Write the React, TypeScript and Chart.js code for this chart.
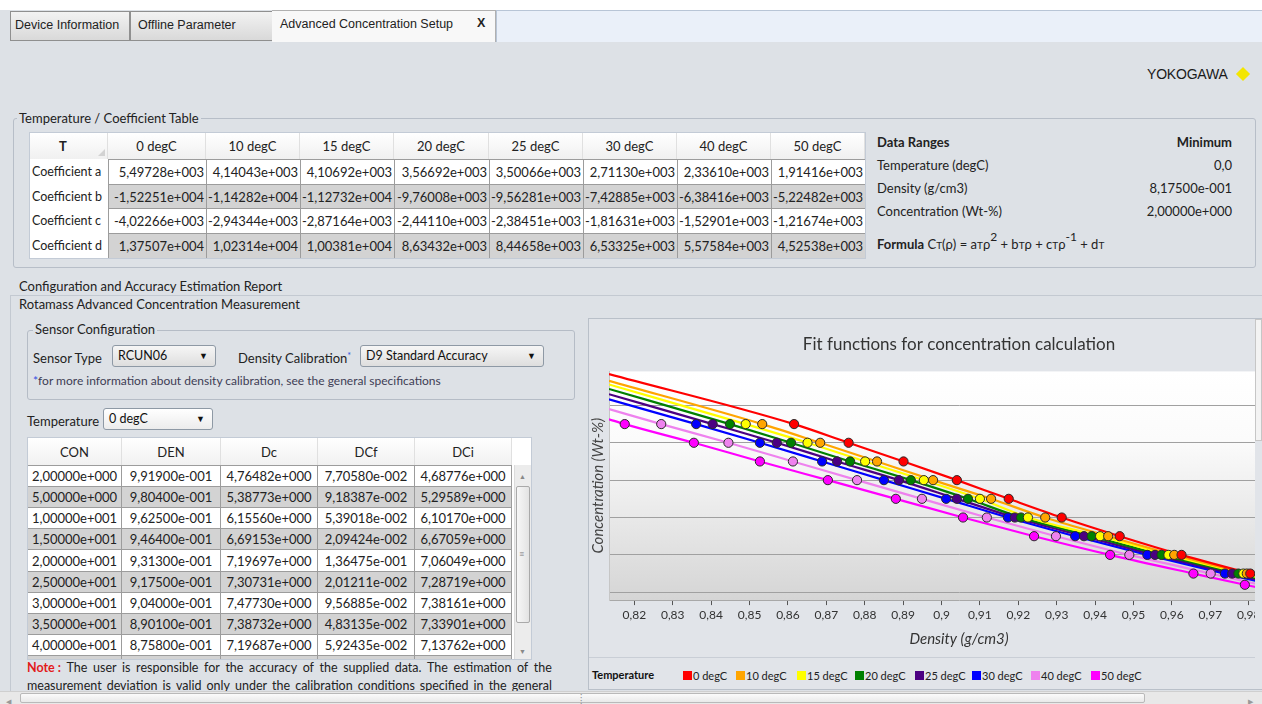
import React, { useEffect, useRef } from "react";
import { Chart, registerables } from "chart.js";

Chart.register(...registerables);

// ---------- chart data ----------
const temperatures = ["0 degC", "10 degC", "15 degC", "20 degC", "25 degC", "30 degC", "40 degC", "50 degC"];
const seriesColors = ["#ff0000", "#ffa500", "#ffff00", "#008000", "#4b0082", "#0000ff", "#ee82ee", "#ff00ff"];
const concLevels = [45, 40, 35, 30, 25, 20, 15, 10, 5, 2];
const den0 = [0.8616, 0.8758, 0.8901, 0.904, 0.9175, 0.9313, 0.9464, 0.9625, 0.9804, 0.9919];
const den10 = [0.8533, 0.8684, 0.8832, 0.8978, 0.9129, 0.927, 0.9434, 0.9606, 0.9795, 0.991];
const den15 = [0.849, 0.8651, 0.8801, 0.8954, 0.91, 0.9225, 0.9413, 0.9591, 0.9786, 0.9898];
const den20 = [0.8449, 0.8608, 0.8762, 0.892, 0.9069, 0.9207, 0.9391, 0.9573, 0.9773, 0.9888];
const den25 = [0.8404, 0.8571, 0.8728, 0.8889, 0.904, 0.9191, 0.9371, 0.9556, 0.9757, 0.9876];
const den30 = [0.8361, 0.8527, 0.8689, 0.885, 0.9012, 0.9173, 0.9348, 0.9536, 0.9738, 0.9862];
const den40 = [0.827, 0.8445, 0.8613, 0.878, 0.8949, 0.9118, 0.9298, 0.9489, 0.9701, 0.983];
const den50 = [0.8175, 0.8355, 0.8527, 0.8704, 0.8881, 0.9056, 0.9241, 0.9439, 0.9656, 0.979];
const pointSeries = [den0, den10, den15, den20, den25, den30, den40, den50];
// fit curve ends read at the plot edges
const fitStartDensity = 0.8134;
const fitStartConc = [58.4, 56.6, 55.6, 54.4, 53.0, 51.6, 49.0, 46.3];
const fitEndDensity = 0.9957;
const fitEndConc = [1.0, 0.8, 0.5, 0.3, 0.1, -0.2, -0.8, -1.6];
const xTickValues = [0.82, 0.83, 0.84, 0.85, 0.86, 0.87, 0.88, 0.89, 0.9, 0.91, 0.92, 0.93, 0.94, 0.95, 0.96, 0.97, 0.98, 0.99];
const yGridValues = [0, 10, 20, 30, 40, 50];
const xMin = 0.8134;
const xMax = 0.9957;
const yMin = -2.1;
const yMax = 59.1;

// ---------- table data ----------
const coefHeaders = ["0 degC", "10 degC", "15 degC", "20 degC", "25 degC", "30 degC", "40 degC", "50 degC"];
const coefRowLabels = ["Coefficient a", "Coefficient b", "Coefficient c", "Coefficient d"];
const coefA = ["5,49728e+003", "4,14043e+003", "4,10692e+003", "3,56692e+003", "3,50066e+003", "2,71130e+003", "2,33610e+003", "1,91416e+003"];
const coefB = ["-1,52251e+004", "-1,14282e+004", "-1,12732e+004", "-9,76008e+003", "-9,56281e+003", "-7,42885e+003", "-6,38416e+003", "-5,22482e+003"];
const coefC = ["-4,02266e+003", "-2,94344e+003", "-2,87164e+003", "-2,44110e+003", "-2,38451e+003", "-1,81631e+003", "-1,52901e+003", "-1,21674e+003"];
const coefD = ["1,37507e+004", "1,02314e+004", "1,00381e+004", "8,63432e+003", "8,44658e+003", "6,53325e+003", "5,57584e+003", "4,52538e+003"];

const accHeaders = ["CON", "DEN", "Dc", "DCf", "DCi"];
const accCON = ["2,00000e+000", "5,00000e+000", "1,00000e+001", "1,50000e+001", "2,00000e+001", "2,50000e+001", "3,00000e+001", "3,50000e+001", "4,00000e+001"];
const accDEN = ["9,91900e-001", "9,80400e-001", "9,62500e-001", "9,46400e-001", "9,31300e-001", "9,17500e-001", "9,04000e-001", "8,90100e-001", "8,75800e-001"];
const accDc = ["4,76482e+000", "5,38773e+000", "6,15560e+000", "6,69153e+000", "7,19697e+000", "7,30731e+000", "7,47730e+000", "7,38732e+000", "7,19687e+000"];
const accDCf = ["7,70580e-002", "9,18387e-002", "5,39018e-002", "2,09424e-002", "1,36475e-001", "2,01211e-002", "9,56885e-002", "4,83135e-002", "5,92435e-002"];
const accDCi = ["4,68776e+000", "5,29589e+000", "6,10170e+000", "6,67059e+000", "7,06049e+000", "7,28719e+000", "7,38161e+000", "7,33901e+000", "7,13762e+000"];

const rangeLabels = ["Temperature (degC)", "Density (g/cm3)", "Concentration (Wt-%)"];
const rangeMinimums = ["0,0", "8,17500e-001", "2,00000e+000"];

const UI = "Lato, 'Noto Sans', sans-serif";
const PAGE_BG = "#dde1e6";

const fmtTick = (v: number) => String(Math.round(v * 100) / 100).replace(".", ",");

function Box(props: any) {
  const { x, y, w, h, style, children } = props;
  return (
    <div style={{ position: "absolute", left: x, top: y, width: w, height: h, boxSizing: "border-box", ...style }}>
      {children}
    </div>
  );
}

function Txt(props: any) {
  const { x, y, style, children } = props;
  return (
    <div style={{ position: "absolute", left: x, top: y, whiteSpace: "nowrap", fontFamily: UI, fontSize: 13, color: "#222", lineHeight: "16px", ...style }}>
      {children}
    </div>
  );
}

function Cell(props: any) {
  const { x, y, w, h, bg, align, style, children } = props;
  return (
    <div
      style={{
        position: "absolute",
        left: x,
        top: y,
        width: w,
        height: h,
        boxSizing: "border-box",
        background: bg,
        display: "flex",
        alignItems: "center",
        justifyContent: align || "center",
        padding: "0 3px",
        whiteSpace: "nowrap",
        overflow: "hidden",
        fontFamily: UI,
        fontSize: 13,
        color: "#222",
        ...style,
      }}
    >
      {children}
    </div>
  );
}

function Combo(props: any) {
  const { x, y, w, text, bg } = props;
  return (
    <div
      style={{
        position: "absolute",
        left: x,
        top: y,
        width: w,
        height: 22,
        boxSizing: "border-box",
        border: "1px solid #8e99a5",
        borderRadius: 3,
        background: bg || "linear-gradient(#f6f6f6, #dedede)",
        fontFamily: UI,
        fontSize: 12.5,
        color: "#111",
        lineHeight: "20px",
        paddingLeft: 5,
      }}
    >
      {text}
      <span style={{ position: "absolute", right: 7, top: 0, fontSize: 9, color: "#111" }}>▼</span>
    </div>
  );
}

function FitChart() {
  const canvasRef = useRef<HTMLCanvasElement>(null);
  useEffect(() => {
    const canvas = canvasRef.current;
    if (!canvas) return;
    Chart.defaults.font.family = UI;

    const pointSets = temperatures.map((t, i) => ({
      label: t,
      data: pointSeries[i].map((d, j) => ({ x: d, y: concLevels[j] })),
      showLine: false,
      backgroundColor: seriesColors[i],
      borderColor: "#2a2a2a",
      borderWidth: 1,
      pointRadius: 4.6,
      pointBorderWidth: 1,
      order: 0,
    }));
    const lineSets = temperatures.map((t, i) => ({
      label: t + " fit",
      data: [
        { x: fitStartDensity, y: fitStartConc[i] },
        ...pointSeries[i].map((d, j) => ({ x: d, y: concLevels[j] })),
        { x: fitEndDensity, y: fitEndConc[i] },
      ],
      showLine: true,
      borderColor: seriesColors[i],
      backgroundColor: seriesColors[i],
      borderWidth: 2.2,
      pointRadius: 0,
      cubicInterpolationMode: "monotone",
      order: 1,
    }));

    const plotBg = {
      id: "plotBg",
      beforeDraw(chart: any) {
        const { ctx, chartArea } = chart;
        if (!chartArea) return;
        const g = ctx.createLinearGradient(0, chartArea.top, 0, chartArea.bottom);
        g.addColorStop(0, "#ffffff");
        g.addColorStop(0.3, "#fbfbfb");
        g.addColorStop(1, "#d5d5d5");
        ctx.save();
        ctx.fillStyle = g;
        ctx.fillRect(chartArea.left, chartArea.top, chartArea.right - chartArea.left, chartArea.bottom - chartArea.top);
        ctx.restore();
      },
    };

    const chart = new Chart(canvas, {
      type: "scatter",
      data: { datasets: [...pointSets, ...lineSets] as any },
      plugins: [plotBg],
      options: {
        animation: false,
        responsive: false,
        events: [],
        layout: { padding: { left: 0, right: 0, top: 0, bottom: 8.5 } },
        plugins: {
          legend: { display: false },
          tooltip: { enabled: false },
          title: {
            display: true,
            text: "Fit functions for concentration calculation",
            color: "#333",
            font: { family: UI, size: 17, weight: "normal" },
            padding: { top: 13, bottom: 17 },
          },
        },
        scales: {
          x: {
            type: "linear",
            min: xMin,
            max: xMax,
            afterBuildTicks: (s: any) => {
              s.ticks = xTickValues.map((v) => ({ value: v }));
            },
            ticks: {
              callback: (v: any) => fmtTick(Number(v)),
              color: "#333",
              font: { family: UI, size: 12 },
              padding: 3,
              autoSkip: false,
              maxRotation: 0,
            },
            grid: { drawOnChartArea: false, tickLength: 5, color: "#555" },
            border: { color: "#a8a8a8" },
            title: {
              display: true,
              text: "Density (g/cm3)",
              color: "#333",
              font: { family: UI, size: 15, style: "italic" },
              padding: { top: 5, bottom: 0 },
            },
          },
          y: {
            type: "linear",
            position: "left",
            min: yMin,
            max: yMax,
            afterBuildTicks: (s: any) => {
              s.ticks = yGridValues.map((v) => ({ value: v }));
            },
            afterFit: (s: any) => {
              s.width = 20;
            },
            ticks: { display: false },
            grid: { color: "#a0a0a0", drawTicks: false, lineWidth: 1 },
            border: { color: "#c6c6c6" },
            title: {
              display: true,
              text: "Concentration (Wt-%)",
              color: "#444",
              font: { family: UI, size: 15, style: "italic" },
              padding: { top: 0, bottom: 0 },
            },
          },
          yRight: {
            type: "linear",
            position: "right",
            display: true,
            min: yMin,
            max: yMax,
            afterFit: (s: any) => {
              s.width = 20;
            },
            ticks: { display: false },
            grid: { display: false, drawTicks: false },
            border: { display: false },
          },
        },
      } as any,
    });
    return () => chart.destroy();
  }, []);

  return (
    <div style={{ position: "absolute", left: 589, top: 321, width: 666, height: 336, overflow: "hidden" }}>
      <canvas ref={canvasRef} width={740} height={336} style={{ display: "block", width: 740, height: 336 }} />
    </div>
  );
}

export default function App() {
  const cx = [30, 108, 206, 300, 394, 489, 583, 677, 771, 865];
  const ry = [133, 159, 184, 208, 233, 258];
  const coefRows = [coefA, coefB, coefC, coefD];

  const ax = [28, 122, 221, 318, 415, 512];
  const accCols = [accCON, accDEN, accDc, accDCf, accDCi];
  const rowH = 21.1;

  const legendX = [683, 736, 797, 855, 915, 972, 1031, 1091];

  return (
    <div
      style={{
        position: "fixed",
        left: 0,
        top: 0,
        width: 1262,
        height: 704,
        overflow: "hidden",
        background: PAGE_BG,
        fontFamily: UI,
      }}
    >
      {/* tab strip */}
      <Box x={0} y={0} w={1262} h={10} style={{ background: "#ffffff" }} />
      <Box x={496} y={10} w={766} h={32} style={{ background: "#eaf0f9", borderTop: "1px solid #b8c5d6", borderLeft: "1px solid #b8c5d6" }} />
      <Box x={10} y={11} w={120} h={30} style={{ background: "linear-gradient(#f2f2f2,#d9d9d9)", border: "1px solid #8f8f8f" }} />
      <Txt x={15} y={17} style={{ fontFamily: "'Liberation Sans', Arial, sans-serif", fontSize: 12.5 }}>Device Information</Txt>
      <Box x={130} y={11} w={143} h={30} style={{ background: "linear-gradient(#f2f2f2,#d9d9d9)", border: "1px solid #8f8f8f" }} />
      <Txt x={138} y={17} style={{ fontFamily: "'Liberation Sans', Arial, sans-serif", fontSize: 12.5 }}>Offline Parameter</Txt>
      <Box x={272} y={10} w={224} h={32} style={{ background: "#f8f8f8", borderTop: "1px solid #b0b0b0", borderRight: "1px solid #b0b0b0" }} />
      <Txt x={280} y={16} style={{ fontFamily: "'Liberation Sans', Arial, sans-serif", fontSize: 12.5 }}>Advanced Concentration Setup</Txt>
      <Txt x={477} y={15} style={{ fontFamily: "'Liberation Sans', Arial, sans-serif", fontSize: 12.5, fontWeight: "bold" }}>X</Txt>

      {/* logo */}
      <Txt x={1147} y={66} style={{ fontFamily: "'Liberation Sans', Arial, sans-serif", fontSize: 14, letterSpacing: -0.2, color: "#1a1a1a" }}>YOKOGAWA</Txt>
      <Box x={1238} y={69} w={10} h={10} style={{ background: "#f3e600", transform: "rotate(45deg)" }} />

      {/* Temperature / Coefficient Table group */}
      <Box x={13} y={118} w={1243} h={150} style={{ border: "1px solid #b7bec8", borderRadius: 3 }} />
      <Txt x={17} y={110} style={{ background: PAGE_BG, padding: "0 2px" }}>Temperature / Coefficient Table</Txt>

      <Box x={29} y={132} w={837} h={127} style={{ border: "1px solid #c3cbd6", background: "#fff" }} />
      {/* header */}
      <Cell x={cx[0]} y={ry[0]} w={cx[1] - cx[0]} h={ry[1] - ry[0]} bg="linear-gradient(#ffffff,#f0f0f0)" style={{ fontWeight: "bold", borderRight: "1px solid #e0e0e0", paddingRight: 14 }}>
        T
      </Cell>
      <Box x={98} y={149} w={0} h={0} style={{ borderLeft: "7px solid transparent", borderBottom: "7px solid #d2d2d2" }} />
      {coefHeaders.map((hd, i) => (
        <Cell key={"ch" + i} x={cx[i + 1]} y={ry[0]} w={cx[i + 2] - cx[i + 1]} h={ry[1] - ry[0]} bg="linear-gradient(#ffffff,#f0f0f0)" style={{ borderRight: "1px solid #e0e0e0" }}>
          {hd}
        </Cell>
      ))}
      {coefRows.map((row, r) => (
        <React.Fragment key={"cr" + r}>
          <Cell x={cx[0]} y={ry[r + 1]} w={cx[1] - cx[0]} h={ry[r + 2] - ry[r + 1]} bg="#ffffff" align="flex-start" style={{ fontSize: 12.5, paddingLeft: 2 }}>
            {coefRowLabels[r]}
          </Cell>
          {row.map((v, i) => (
            <Cell
              key={"cv" + r + "_" + i}
              x={cx[i + 1]}
              y={ry[r + 1]}
              w={cx[i + 2] - cx[i + 1]}
              h={ry[r + 2] - ry[r + 1]}
              bg={r % 2 === 1 ? "#d3d3d3" : "#ffffff"}
              align="flex-end"
              style={{ borderLeft: "1px solid #9c9c9c", borderTop: "1px solid #9c9c9c", paddingRight: 2 }}
            >
              {v}
            </Cell>
          ))}
        </React.Fragment>
      ))}

      {/* Data ranges */}
      <Txt x={877} y={134} style={{ fontWeight: "bold" }}>Data Ranges</Txt>
      <Txt x={1132} y={134} style={{ fontWeight: "bold", width: 100, textAlign: "right" }}>Minimum</Txt>
      {rangeLabels.map((l, i) => (
        <React.Fragment key={"rg" + i}>
          <Txt x={877} y={157 + i * 23}>{l}</Txt>
          <Txt x={1082} y={157 + i * 23} style={{ width: 150, textAlign: "right" }}>{rangeMinimums[i]}</Txt>
        </React.Fragment>
      ))}
      <Txt x={877} y={236}>
        <b>Formula</b> C<span style={{ fontSize: 10 }}>T</span>(ρ) = a<span style={{ fontSize: 10 }}>T</span>ρ
        <span style={{ position: "relative", top: -8, fontSize: 12 }}>2</span> + b<span style={{ fontSize: 10 }}>T</span>ρ + c
        <span style={{ fontSize: 10 }}>T</span>ρ<span style={{ position: "relative", top: -8, fontSize: 12 }}>-1</span> + d
        <span style={{ fontSize: 10 }}>T</span>
      </Txt>

      {/* Configuration section */}
      <Txt x={19} y={278}>Configuration and Accuracy Estimation Report</Txt>
      <Box x={10} y={295} w={1252} h={400} style={{ borderTop: "1px solid #c3c9d1", borderLeft: "1px solid #c3c9d1" }} />
      <Txt x={19} y={296}>Rotamass Advanced Concentration Measurement</Txt>

      <Box x={27} y={330} w={548} h={70} style={{ border: "1px solid #b5bcc6", borderRadius: 3 }} />
      <Txt x={33} y={321} style={{ background: PAGE_BG, padding: "0 2px" }}>Sensor Configuration</Txt>
      <Txt x={33} y={350}>Sensor Type</Txt>
      <Combo x={112} y={345} w={104} text="RCUN06" />
      <Txt x={238} y={350}>
        Density Calibration<span style={{ color: "#3050e0", fontSize: 9, position: "relative", top: -4 }}>*</span>
      </Txt>
      <Combo x={360} y={345} w={184} text="D9 Standard Accuracy" />
      <Txt x={33} y={373} style={{ fontSize: 12, color: "#3d3d55" }}>
        <span style={{ color: "#3050e0" }}>*</span>for more information about density calibration, see the general specifications
      </Txt>

      <Txt x={27} y={413}>Temperature</Txt>
      <Combo x={103} y={408} w={110} text="0 degC" bg="linear-gradient(#ffffff,#ececec)" />

      {/* accuracy table */}
      <Box x={27} y={437} w={505} h={223} style={{ border: "1px solid #c3cbd6", background: "#ffffff", overflow: "hidden" }}>
        {accHeaders.map((hd, i) => (
          <Cell key={"ah" + i} x={ax[i] - 28} y={0} w={ax[i + 1] - ax[i]} h={27} bg="linear-gradient(#ffffff,#f1f1f1)" style={{ borderRight: "1px solid #e0e0e0" }}>
            {hd}
          </Cell>
        ))}
        {accCON.concat([""]).map((_, r) => (
          <React.Fragment key={"ar" + r}>
            {accCols.map((col, c) => (
              <Cell
                key={"ac" + r + "_" + c}
                x={ax[c] - 28}
                y={Math.round(27 + r * rowH)}
                w={ax[c + 1] - ax[c]}
                h={Math.round(27 + (r + 1) * rowH) - Math.round(27 + r * rowH)}
                bg={r % 2 === 1 ? "#d3d3d3" : "#ffffff"}
                style={{ borderTop: "1px solid #9c9c9c", borderRight: "1px solid #9c9c9c" }}
              >
                {col[r] || ""}
              </Cell>
            ))}
          </React.Fragment>
        ))}
        {/* vertical scrollbar */}
        <Box x={486} y={27} w={18} h={195} style={{ background: "#ececec", borderLeft: "1px solid #dcdcdc" }} />
        <Txt x={491} y={30} style={{ fontSize: 7, color: "#888" }}>▲</Txt>
        <Box x={488} y={48} w={14} h={137} style={{ background: "linear-gradient(90deg,#f7f7f7,#e3e3e3)", border: "1px solid #a9a9a9", borderRadius: 2 }} />
        <Txt x={491} y={108} style={{ fontSize: 9, color: "#777" }}>≡</Txt>
        <Txt x={491} y={205} style={{ fontSize: 7, color: "#888" }}>▼</Txt>
      </Box>

      {/* note */}
      <div style={{ position: "absolute", left: 27, top: 659, width: 525, fontFamily: UI, fontSize: 12.5, color: "#222", lineHeight: "18px" }}>
        <div style={{ display: "flex", justifyContent: "space-between" }}>
          <span style={{ color: "#e21b1b", fontWeight: "bold" }}>Note :</span>
          {"The user is responsible for the accuracy of the supplied data. The estimation of the".split(" ").map((w, i) => (
            <span key={"n1" + i}>{w}</span>
          ))}
        </div>
        <div style={{ display: "flex", justifyContent: "space-between" }}>
          {"measurement deviation is valid only under the calibration conditions specified in the general".split(" ").map((w, i) => (
            <span key={"n2" + i}>{w}</span>
          ))}
        </div>
      </div>

      {/* chart panel */}
      <Box x={588} y={318} w={680} h={372} style={{ border: "1px solid #b9c0c9", background: "#e1e4e9" }} />
      <FitChart />
      <Box x={589} y={657} w={666} h={1} style={{ background: "#c9ced6" }} />
      <Box x={1255} y={319} w={7} h={122} style={{ background: "#f3f3f3", border: "1px solid #c6c6c6" }} />
      <Txt x={592} y={667} style={{ fontSize: 11, fontWeight: "bold", color: "#111" }}>Temperature</Txt>
      {temperatures.map((t, i) => (
        <div key={"lg" + i} style={{ position: "absolute", left: legendX[i], top: 667, display: "flex", alignItems: "center", height: 16, fontFamily: UI, fontSize: 11, color: "#222", whiteSpace: "nowrap" }}>
          <span style={{ display: "inline-block", width: 9, height: 9, background: seriesColors[i], marginRight: 1 }} />
          {t}
        </div>
      ))}

      {/* bottom scrollbar */}
      <Box x={0} y={691} w={1262} h={13} style={{ background: "#e8e8e8", borderTop: "1px solid #cfcfcf" }} />
      <Txt x={6} y={693} style={{ fontSize: 7, color: "#999" }}>◀</Txt>
      <Box x={20} y={693} w={1125} h={10} style={{ background: "linear-gradient(#fbfbfb,#e9e9e9)", border: "1px solid #b9b9b9", borderRadius: 2 }} />
      <Txt x={580} y={691} style={{ fontSize: 9, color: "#888" }}>⁞</Txt>
      <Txt x={1248} y={693} style={{ fontSize: 7, color: "#999" }}>▶</Txt>
    </div>
  );
}
